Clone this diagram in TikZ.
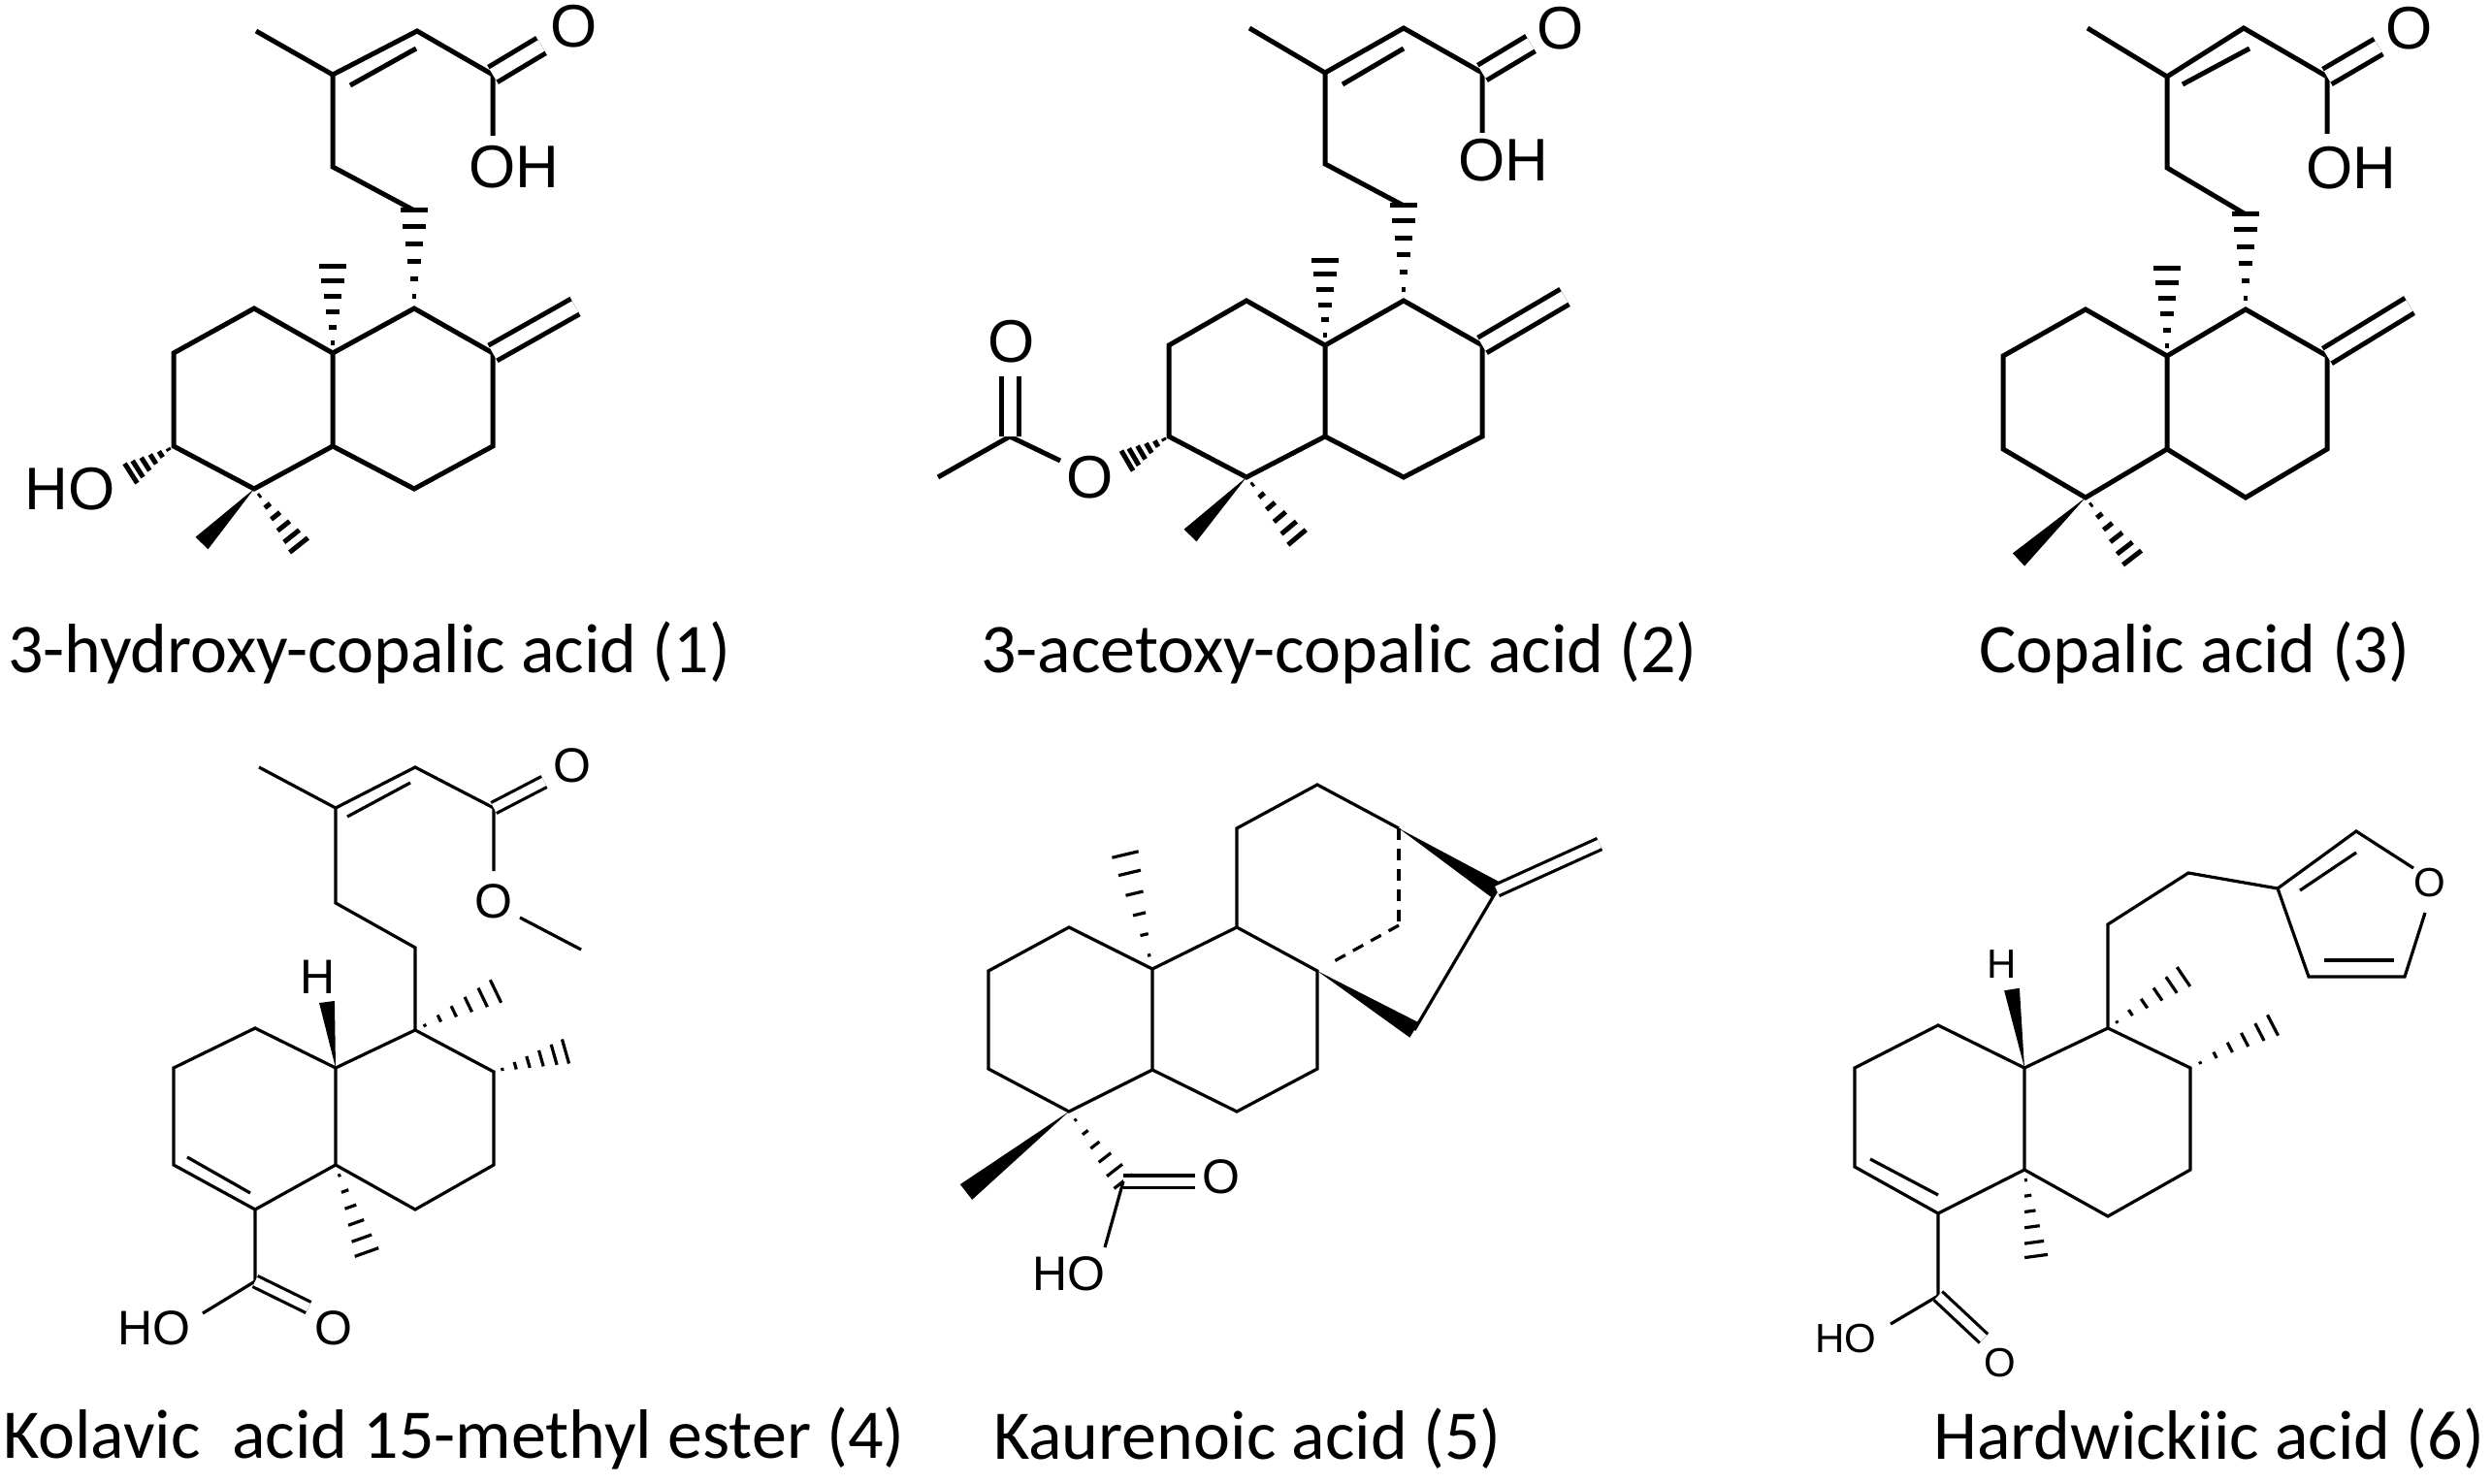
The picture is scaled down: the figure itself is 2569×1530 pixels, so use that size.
\documentclass[tikz,border=0pt]{standalone}
\usepackage{fontspec}
\setmainfont{Carlito}
\newfontfamily\atomf{Liberation Sans}
\usetikzlibrary{calc}
\newcommand{\wdg}[3]{\fill ($(#2)!#3!90:(#1)$) -- (#1) -- ($(#2)!#3!-90:(#1)$) -- cycle;}
\newcommand{\hsh}[3]{\foreach \t in {0.12,0.3,0.48,0.66,0.84,1.0}{\draw ($(#1)!\t!(#2)!{#3*\t*1pt}!90:(#1)$) -- ($(#1)!\t!(#2)!{#3*\t*1pt}!-90:(#1)$);}}
\newcommand{\dashb}[2]{\draw[dash pattern=on 12pt off 9pt] (#1) -- (#2);}
\tikzset{
 big/.style={line width=5pt,line join=miter,line cap=butt},
 small/.style={line width=3.2pt,line join=miter,line cap=butt},
 dbl/.style={double,double distance=#1},
 atomA/.style={font=\atomf\fontsize{62}{62}\selectfont,inner sep=0pt},
 atomB/.style={font=\atomf\fontsize{50}{50}\selectfont,inner sep=0pt},
 atomC/.style={font=\atomf\fontsize{42}{42}\selectfont,inner sep=0pt},
 lbl/.style={font=\fontsize{72}{72}\selectfont,anchor=west,inner sep=0pt}
}
\begin{document}
\begin{tikzpicture}[x=1pt,y=-1pt]
\fill[white] (0,0) rectangle (2569,1530);
\useasboundingbox (0,0) rectangle (2569,1530);
% ---------------- Molecule 1
\begin{scope}[big]
\coordinate (a-me) at (264,32); \coordinate (a-c3p) at (343,77); \coordinate (a-c2p) at (430,32); \coordinate (a-c1p) at (508,77);
\coordinate (a-oe) at (558,47); \coordinate (a-ohb) at (508,140);
\coordinate (a-c4p) at (343,172); \coordinate (a-c5p) at (427,217);
\coordinate (a-c9) at (427,318); \coordinate (a-c8) at (508,364); \coordinate (a-exo) at (593,316);
\coordinate (a-c7) at (508,460); \coordinate (a-c6) at (427,504); \coordinate (a-c5) at (343,460);
\coordinate (a-c10) at (343,364); \coordinate (a-me10) at (343,275);
\coordinate (a-c1) at (262,318); \coordinate (a-c2) at (179,364); \coordinate (a-c3) at (179,460); \coordinate (a-c4) at (262,504);
\coordinate (a-hob) at (135,488); \coordinate (a-w) at (208,560); \coordinate (a-h) at (308,562);
\node[atomA] (a-O) at (592,27) {O};
\node[atomA] (a-OH) at (530,172) {OH};
\node[atomA] (a-HO) at (72,504) {HO};
\draw (a-me) -- (a-c3p) -- (a-c2p) -- (a-c1p) -- (a-ohb);
\draw (361,88) -- (429,50);
\draw[dbl=13pt] (a-c1p) -- (a-oe);
\draw (a-c3p) -- (a-c4p) -- (a-c5p);
\hsh{a-c9}{a-c5p}{14}
\draw (a-c9) -- (a-c8) -- (a-c7) -- (a-c6) -- (a-c5) -- (a-c10) -- cycle;
\draw (a-c10) -- (a-c1) -- (a-c2) -- (a-c3) -- (a-c4) -- (a-c5);
\draw[dbl=13pt] (a-c8) -- (a-exo);
\hsh{a-c10}{a-me10}{14}
\hsh{a-c3}{a-hob}{12}
\wdg{a-c4}{a-w}{9pt}
\hsh{a-c4}{a-h}{12}
\end{scope}
\node[lbl] (t1) at (8,673) {3-hydroxy-copalic acid (1)};
% ---------------- Molecule 2
\begin{scope}[big]
\coordinate (b-me) at (1288,29); \coordinate (b-c3p) at (1366,75); \coordinate (b-c2p) at (1447,29); \coordinate (b-c1p) at (1528,75);
\coordinate (b-oe) at (1578,45); \coordinate (b-ohb) at (1528,137);
\coordinate (b-c4p) at (1366,169); \coordinate (b-c5p) at (1447,212);
\coordinate (b-c9) at (1447,310); \coordinate (b-c8) at (1528,356); \coordinate (b-exo) at (1613,306);
\coordinate (b-c7) at (1528,450); \coordinate (b-c6) at (1447,492); \coordinate (b-c5) at (1366,450);
\coordinate (b-c10) at (1366,356); \coordinate (b-me10) at (1366,269);
\coordinate (b-c1) at (1285,310); \coordinate (b-c2) at (1205,356); \coordinate (b-c3) at (1205,450); \coordinate (b-c4) at (1285,492);
\coordinate (b-ob) at (1162,475); \coordinate (b-w) at (1227,552); \coordinate (b-h) at (1337,554);
\coordinate (b-ac) at (1041,450); \coordinate (b-aob) at (1093,475); \coordinate (b-aoe) at (1041,388); \coordinate (b-ame) at (967,492);
\node[atomA] (b-O) at (1609,29) {O};
\node[atomA] (b-OH) at (1550,165) {OH};
\node[atomA] (b-Oe) at (1124,492) {O};
\node[atomA] (b-Oa) at (1043,352) {O};
\draw (b-me) -- (b-c3p) -- (b-c2p) -- (b-c1p) -- (b-ohb);
\draw (1384,87) -- (1447,50);
\draw[dbl=13pt] (b-c1p) -- (b-oe);
\draw (b-c3p) -- (b-c4p) -- (b-c5p);
\hsh{b-c9}{b-c5p}{14}
\draw (b-c9) -- (b-c8) -- (b-c7) -- (b-c6) -- (b-c5) -- (b-c10) -- cycle;
\draw (b-c10) -- (b-c1) -- (b-c2) -- (b-c3) -- (b-c4) -- (b-c5);
\draw[dbl=13pt] (b-c8) -- (b-exo);
\hsh{b-c10}{b-me10}{14}
\hsh{b-c3}{b-ob}{12}
\wdg{b-c4}{b-w}{9pt}
\hsh{b-c4}{b-h}{12}
\draw (b-ame) -- (b-ac) -- (b-aob);
\draw[dbl=13pt] (b-ac) -- (b-aoe);
\end{scope}
\node[lbl] (t2) at (1011,673) {3-acetoxy-copalic acid (2)};
% ---------------- Molecule 3
\begin{scope}[big]
\coordinate (c-me) at (2152,29); \coordinate (c-c3p) at (2234,79); \coordinate (c-c2p) at (2313,29); \coordinate (c-c1p) at (2399,79);
\coordinate (c-oe) at (2452,48); \coordinate (c-ohb) at (2399,138);
\coordinate (c-c4p) at (2234,173); \coordinate (c-c5p) at (2315,221);
\coordinate (c-c9) at (2315,319); \coordinate (c-c8) at (2399,367); \coordinate (c-exo) at (2484,315);
\coordinate (c-c7) at (2399,463); \coordinate (c-c6) at (2315,513); \coordinate (c-c5) at (2234,463);
\coordinate (c-c10) at (2234,367); \coordinate (c-me10) at (2234,277);
\coordinate (c-c1) at (2150,319); \coordinate (c-c2) at (2065,367); \coordinate (c-c3) at (2065,463); \coordinate (c-c4) at (2150,513);
\coordinate (c-w) at (2081,577); \coordinate (c-h) at (2198,575);
\node[atomA] (c-O) at (2484,29) {O};
\node[atomA] (c-OH) at (2424,173) {OH};
\draw (c-me) -- (c-c3p) -- (c-c2p) -- (c-c1p) -- (c-ohb);
\draw (2250,87) -- (2319,50);
\draw[dbl=13pt] (c-c1p) -- (c-oe);
\draw (c-c3p) -- (c-c4p) -- (c-c5p);
\hsh{c-c9}{c-c5p}{14}
\draw (c-c9) -- (c-c8) -- (c-c7) -- (c-c6) -- (c-c5) -- (c-c10) -- cycle;
\draw (c-c10) -- (c-c1) -- (c-c2) -- (c-c3) -- (c-c4) -- (c-c5);
\draw[dbl=13pt] (c-c8) -- (c-exo);
\hsh{c-c10}{c-me10}{14}
\wdg{c-c4}{c-w}{9pt}
\hsh{c-c4}{c-h}{12}
\end{scope}
\node[lbl] (t3) at (2040,673) {Copalic acid (3)};
% ---------------- Molecule 4
\begin{scope}[small]
\coordinate (d-me) at (267,791); \coordinate (d-c3p) at (346,833); \coordinate (d-c2p) at (428,791); \coordinate (d-c1p) at (509,833);
\coordinate (d-oe) at (561,806); \coordinate (d-ob) at (509,898); \coordinate (d-omb) at (536,946); \coordinate (d-ome) at (599,979);
\coordinate (d-c4p) at (346,931); \coordinate (d-c5p) at (428,977);
\coordinate (d-c9) at (428,1062); \coordinate (d-m9) at (511,1022);
\coordinate (d-c8) at (509,1105); \coordinate (d-m8) at (583,1084);
\coordinate (d-c7) at (509,1201); \coordinate (d-c6) at (428,1247); \coordinate (d-c5) at (346,1201);
\coordinate (d-c10) at (346,1101); \coordinate (d-hw) at (337,1033);
\coordinate (d-c1) at (263,1060); \coordinate (d-c2) at (179,1101); \coordinate (d-c3) at (179,1201); \coordinate (d-c4) at (263,1247);
\coordinate (d-m5) at (378,1291);
\coordinate (d-cc) at (263,1321); \coordinate (d-ohb) at (209,1354); \coordinate (d-coe) at (318,1348);
\node[atomB] (d-O) at (590,789) {O};
\node[atomB] (d-Oe) at (509,929) {O};
\node[atomB] (d-H) at (328,1007) {H};
\node[atomB] (d-HO) at (159,1369) {HO};
\node[atomB] (d-O2) at (344,1369) {O};
\draw (d-me) -- (d-c3p) -- (d-c2p) -- (d-c1p) -- (d-ob);
\draw (358,842) -- (423,807);
\draw[dbl=9pt] (d-c1p) -- (d-oe);
\draw (d-omb) -- (d-ome);
\draw (d-c3p) -- (d-c4p) -- (d-c5p) -- (d-c9);
\draw (d-c9) -- (d-c8) -- (d-c7) -- (d-c6) -- (d-c5) -- (d-c10) -- cycle;
\draw (d-c10) -- (d-c1) -- (d-c2) -- (d-c3) -- (d-c4) -- (d-c5);
\draw (193,1193) -- (258,1230);
\hsh{d-c9}{d-m9}{13}
\hsh{d-c8}{d-m8}{13}
\hsh{d-c5}{d-m5}{13}
\wdg{d-c10}{d-hw}{8pt}
\draw (d-c4) -- (d-cc) -- (d-ohb);
\draw[dbl=9pt] (d-cc) -- (d-coe);
\end{scope}
\node[lbl] (t4) at (3,1483) {Kolavic\ \ acid 15-methyl ester (4)};
% ---------------- Molecule 5
\begin{scope}[small]
\coordinate (e-c1) at (1102,956); \coordinate (e-c2) at (1019,1001); \coordinate (e-c3) at (1019,1102); \coordinate (e-c4) at (1102,1146);
\coordinate (e-c5) at (1188,1103); \coordinate (e-c10) at (1188,999);
\coordinate (e-c9) at (1275,956); \coordinate (e-c8) at (1358,1001); \coordinate (e-c7) at (1358,1102); \coordinate (e-c6) at (1275,1146);
\coordinate (e-c11) at (1275,854); \coordinate (e-c12) at (1358,809); \coordinate (e-c13) at (1442,854);
\coordinate (e-c14) at (1442,954); \coordinate (e-c14b) at (1370,994);
\coordinate (e-c16) at (1543,918); \coordinate (e-exo) at (1649,870); \coordinate (e-c15) at (1458,1062);
\coordinate (e-m10) at (1160,881); \coordinate (e-w4) at (996,1229); \coordinate (e-cc) at (1158,1218);
\coordinate (e-coe) at (1232,1218); \coordinate (e-ohb) at (1139,1286);
\node[atomB] (e-O) at (1259,1213) {O};
\node[atomB] (e-HO) at (1102,1313) {HO};
\draw (e-c10) -- (e-c1) -- (e-c2) -- (e-c3) -- (e-c4) -- (e-c5) -- cycle;
\draw (e-c10) -- (e-c9) -- (e-c8) -- (e-c7) -- (e-c6) -- (e-c5);
\draw (e-c9) -- (e-c11) -- (e-c12) -- (e-c13);
\dashb{e-c13}{e-c14}
\dashb{e-c14}{e-c14b}
\wdg{e-c13}{e-c16}{9pt}
\wdg{e-c8}{e-c15}{9pt}
\draw (e-c15) -- (e-c16);
\draw[dbl=9pt] (e-c16) -- (e-exo);
\hsh{e-c10}{e-m10}{14}
\wdg{e-c4}{e-w4}{10pt}
\hsh{e-c4}{e-cc}{12}
\draw[dbl=9pt] (e-cc) -- (e-coe);
\draw (e-cc) -- (e-ohb);
\end{scope}
\node[lbl] (t5) at (1024,1483) {Kaurenoic acid (5)};
% ---------------- Molecule 6
\begin{scope}[small]
\coordinate (f-c1) at (1998,1057); \coordinate (f-c2) at (1912,1101); \coordinate (f-c3) at (1912,1203); \coordinate (f-c4) at (1998,1251);
\coordinate (f-c5) at (2087,1206); \coordinate (f-c10) at (2087,1101); \coordinate (f-hw) at (2074,1020);
\coordinate (f-c9) at (2173,1060); \coordinate (f-c8) at (2258,1101); \coordinate (f-c7) at (2258,1206); \coordinate (f-c6) at (2173,1254);
\coordinate (f-m5) at (2099,1295); \coordinate (f-m9) at (2251,1007); \coordinate (f-m8) at (2343,1057);
\coordinate (f-ch1) at (2173,953); \coordinate (f-ch2) at (2256,900);
\coordinate (f-u3) at (2348,916); \coordinate (f-u2) at (2429,857); \coordinate (f-u5) at (2479,1007); \coordinate (f-u4) at (2380,1007);
\coordinate (f-uo1) at (2488,895); \coordinate (f-uo2) at (2500,941);
\coordinate (f-cc) at (1998,1336); \coordinate (f-ohb) at (1949,1365); \coordinate (f-coe) at (2045,1380);
\node[atomC] (f-O) at (2505,910) {O};
\node[atomC] (f-H) at (2064,994) {H};
\node[atomC] (f-HO) at (1903,1380) {HO};
\node[atomC] (f-O2) at (2062,1405) {O};
\draw (f-c10) -- (f-c1) -- (f-c2) -- (f-c3) -- (f-c4) -- (f-c5) -- cycle;
\draw (1928,1195) -- (1998,1232);
\draw (f-c10) -- (f-c9) -- (f-c8) -- (f-c7) -- (f-c6) -- (f-c5);
\wdg{f-c10}{f-hw}{8pt}
\hsh{f-c5}{f-m5}{12}
\hsh{f-c9}{f-m9}{12}
\hsh{f-c8}{f-m8}{12}
\draw (f-c9) -- (f-ch1) -- (f-ch2) -- (f-u3) -- (f-u2) -- (f-uo1);
\draw (f-uo2) -- (f-u5) -- (f-u4) -- (f-u3);
\draw (2371,918) -- (2429,879);
\draw (2396,990) -- (2468,990);
\draw (f-c4) -- (f-cc) -- (f-ohb);
\draw[dbl=9pt] (f-cc) -- (f-coe);
\end{scope}
\node[lbl] (t6) at (1993,1483) {Hardwickiic acid (6)};
\end{tikzpicture}
\end{document}
